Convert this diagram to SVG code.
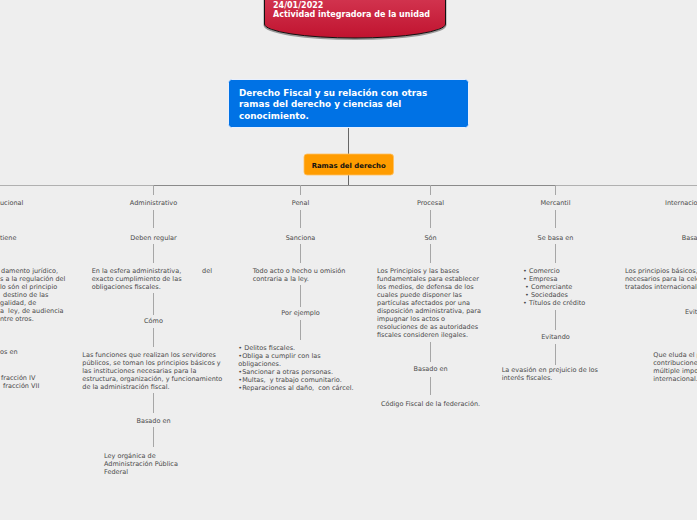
<svg xmlns="http://www.w3.org/2000/svg" width="697" height="520" viewBox="0 0 697 520">
<defs>
<linearGradient id="redg" x1="0" y1="0" x2="0" y2="1">
<stop offset="0" stop-color="#d2344f"/>
<stop offset="1" stop-color="#c0132f"/>
</linearGradient>
</defs>
<style>
.t{font-family:"DejaVu Sans",Verdana,sans-serif;font-size:6.5px;fill:#4a4a4a;white-space:pre}
.m{text-anchor:middle}
.c line{stroke:#a6a6a6;stroke-width:1}
.hd{font-family:"DejaVu Sans",Verdana,sans-serif;font-weight:bold;fill:#fff}
</style>
<rect width="697" height="520" fill="#eeeeee"/>

<g id="connectors" class="c">
<line x1="348.5" y1="128" x2="348.5" y2="154" style="stroke:#666"/>
<line x1="348.5" y1="175" x2="348.5" y2="185" style="stroke:#666"/>
<line x1="0" y1="185.5" x2="697" y2="185.5" style="stroke:#b0b0b0"/>
<line x1="153" y1="185.5" x2="555" y2="185.5" style="stroke:#8a8a8a"/>
<line x1="153.5" y1="185" x2="153.5" y2="195"/>
<line x1="300.5" y1="185" x2="300.5" y2="195"/>
<line x1="430.5" y1="185" x2="430.5" y2="195"/>
<line x1="555.5" y1="185" x2="555.5" y2="195"/>
<line x1="153.5" y1="210" x2="153.5" y2="228"/>
<line x1="153.5" y1="244" x2="153.5" y2="263"/>
<line x1="153.5" y1="293" x2="153.5" y2="315"/>
<line x1="153.5" y1="328" x2="153.5" y2="347"/>
<line x1="153.5" y1="393" x2="153.5" y2="413"/>
<line x1="153.5" y1="427" x2="153.5" y2="447"/>
<line x1="300.5" y1="210" x2="300.5" y2="228"/>
<line x1="300.5" y1="244" x2="300.5" y2="263"/>
<line x1="300.5" y1="285" x2="300.5" y2="307"/>
<line x1="300.5" y1="320" x2="300.5" y2="340"/>
<line x1="430.5" y1="210" x2="430.5" y2="228"/>
<line x1="430.5" y1="244" x2="430.5" y2="263"/>
<line x1="430.5" y1="342" x2="430.5" y2="362"/>
<line x1="430.5" y1="377" x2="430.5" y2="395"/>
<line x1="555.5" y1="210" x2="555.5" y2="228"/>
<line x1="555.5" y1="244" x2="555.5" y2="263"/>
<line x1="555.5" y1="310" x2="555.5" y2="330"/>
<line x1="555.5" y1="344" x2="555.5" y2="365"/>
</g>

<g id="node-top">
<path d="M264.5,-2 V24 A90.5,14 0 0 0 445.5,24 V-2" fill="none" stroke="#999" stroke-width="2" transform="translate(0,1)"/>
<path d="M264.5,-2 V24 A90.5,14 0 0 0 445.5,24 V-2 Z" fill="url(#redg)" stroke="#111" stroke-width="1"/>
<text class="hd" x="273" y="8" font-size="8">24/01/2022</text>
<text class="hd" x="273" y="17" font-size="8">Actividad integradora de la unidad</text>
</g>

<g id="node-main">
<rect x="228.5" y="79.5" width="240" height="48" rx="3" fill="#0072e5" stroke="#e8f0ff" stroke-width="1"/>
<text class="hd" x="239" y="95.5" font-size="8.8">Derecho Fiscal y su relación con otras</text>
<text class="hd" x="239" y="107" font-size="8.8">ramas del derecho y ciencias del</text>
<text class="hd" x="239" y="118.5" font-size="8.8">conocimiento.</text>
</g>

<g id="node-ramas">
<rect x="304" y="154" width="89.5" height="21" rx="3" fill="#ff9c00" stroke="#ffc060" stroke-width="0.8"/>
<text x="348.7" y="167.5" text-anchor="middle" font-family="DejaVu Sans, Verdana, sans-serif" font-size="6.9" font-weight="bold" fill="#111">Ramas del derecho</text>
</g>

<g id="node-constitucional">
<text class="t" x="0" y="204.5">ucional</text>
<text class="t" x="0" y="239.5">tiene</text>
<text class="t" x="1" y="273">damento jurídico,</text>
<text class="t" x="0" y="281">s a la regulación del</text>
<text class="t" x="0" y="289">lo són el principio</text>
<text class="t" x="3" y="297">destino de las</text>
<text class="t" x="0" y="305">galidad, de</text>
<text class="t" x="0" y="313">a  ley, de audiencia</text>
<text class="t" x="0" y="321">ntre otros.</text>
<text class="t" x="0" y="354">os en</text>
<text class="t" x="1" y="380">fracción IV</text>
<text class="t" x="3" y="388">fracción VII</text>
</g>

<g id="node-administrativo">
<text class="t m" x="153.5" y="204.5">Administrativo</text>
<text class="t m" x="153.5" y="239.5">Deben regular</text>
<text class="t" x="91.7" y="273">En la esfera administrativa,</text>
<text class="t" x="202" y="273">del</text>
<text class="t" x="91.7" y="281">exacto cumplimiento de las</text>
<text class="t" x="91.7" y="289">obligaciones fiscales.</text>
<text class="t m" x="153.5" y="323">Cómo</text>
<text class="t" x="82.3" y="357.3">Las funciones que realizan los servidores</text>
<text class="t" x="82.3" y="365.3">públicos, se toman los principios básicos y</text>
<text class="t" x="82.3" y="373.3">las instituciones necesarias para la</text>
<text class="t" x="82.3" y="381.3">estructura, organización, y funcionamiento</text>
<text class="t" x="82.3" y="389.3">de la administración fiscal.</text>
<text class="t m" x="153.5" y="422.5">Basado en</text>
<text class="t" x="104" y="458">Ley orgánica de</text>
<text class="t" x="104" y="466">Administración Pública</text>
<text class="t" x="104" y="474">Federal</text>
</g>

<g id="node-penal">
<text class="t m" x="300.5" y="204.5">Penal</text>
<text class="t m" x="300.5" y="239.5">Sanciona</text>
<text class="t" x="252.7" y="273">Todo acto o hecho u omisión</text>
<text class="t" x="252.7" y="281">contraria a la ley.</text>
<text class="t m" x="300.5" y="314.6">Por ejemplo</text>
<text class="t" x="238.3" y="350">• Delitos fiscales.</text>
<text class="t" x="238.3" y="358">•Obliga a cumplir con las</text>
<text class="t" x="238.3" y="366">obligaciones.</text>
<text class="t" x="238.3" y="374">•Sancionar a otras personas.</text>
<text class="t" x="238.3" y="382">•Multas,  y trabajo comunitario.</text>
<text class="t" x="238.3" y="390">•Reparaciones al daño,  con cárcel.</text>
</g>

<g id="node-procesal">
<text class="t m" x="430.5" y="204.5">Procesal</text>
<text class="t m" x="430.5" y="239.5">Són</text>
<text class="t" x="377" y="273">Los Principios y las bases</text>
<text class="t" x="377" y="281">fundamentales para establecer</text>
<text class="t" x="377" y="289">los medios, de defensa de los</text>
<text class="t" x="377" y="297">cuales puede disponer las</text>
<text class="t" x="377" y="305">partículas afectados por una</text>
<text class="t" x="377" y="313">disposición administrativa, para</text>
<text class="t" x="377" y="321">impugnar los actos o</text>
<text class="t" x="377" y="329">resoluciones de as autoridades</text>
<text class="t" x="377" y="337">fiscales consideren ilegales.</text>
<text class="t m" x="430.5" y="370.6">Basado en</text>
<text class="t m" x="430.5" y="405.6">Código Fiscal de la federación.</text>
</g>

<g id="node-mercantil">
<text class="t m" x="555.5" y="204.5">Mercantil</text>
<text class="t m" x="555.5" y="239.5">Se basa en</text>
<text class="t" x="523" y="273">• Comercio</text>
<text class="t" x="523" y="281">• Empresa</text>
<text class="t" x="525" y="289">• Comerciante</text>
<text class="t" x="525" y="297">• Sociedades</text>
<text class="t" x="523" y="305">• Títulos de crédito</text>
<text class="t m" x="555.5" y="339">Evitando</text>
<text class="t" x="501.7" y="372.3">La evasión en prejuicio de los</text>
<text class="t" x="501.7" y="380.3">interés fiscales.</text>
</g>

<g id="node-internacional">
<text class="t" x="665" y="204.5">Internacio</text>
<text class="t" x="681.7" y="239.5">Basa</text>
<text class="t" x="625" y="273">Los principios básicos,</text>
<text class="t" x="625" y="281">necesarios para la cele</text>
<text class="t" x="625" y="289">tratados internacionale</text>
<text class="t" x="685" y="314">Evit</text>
<text class="t" x="653.3" y="357">Que eluda el p</text>
<text class="t" x="653.3" y="365">contribucione</text>
<text class="t" x="653.3" y="373">múltiple impo</text>
<text class="t" x="653.3" y="381">internacional.</text>
</g>
</svg>
